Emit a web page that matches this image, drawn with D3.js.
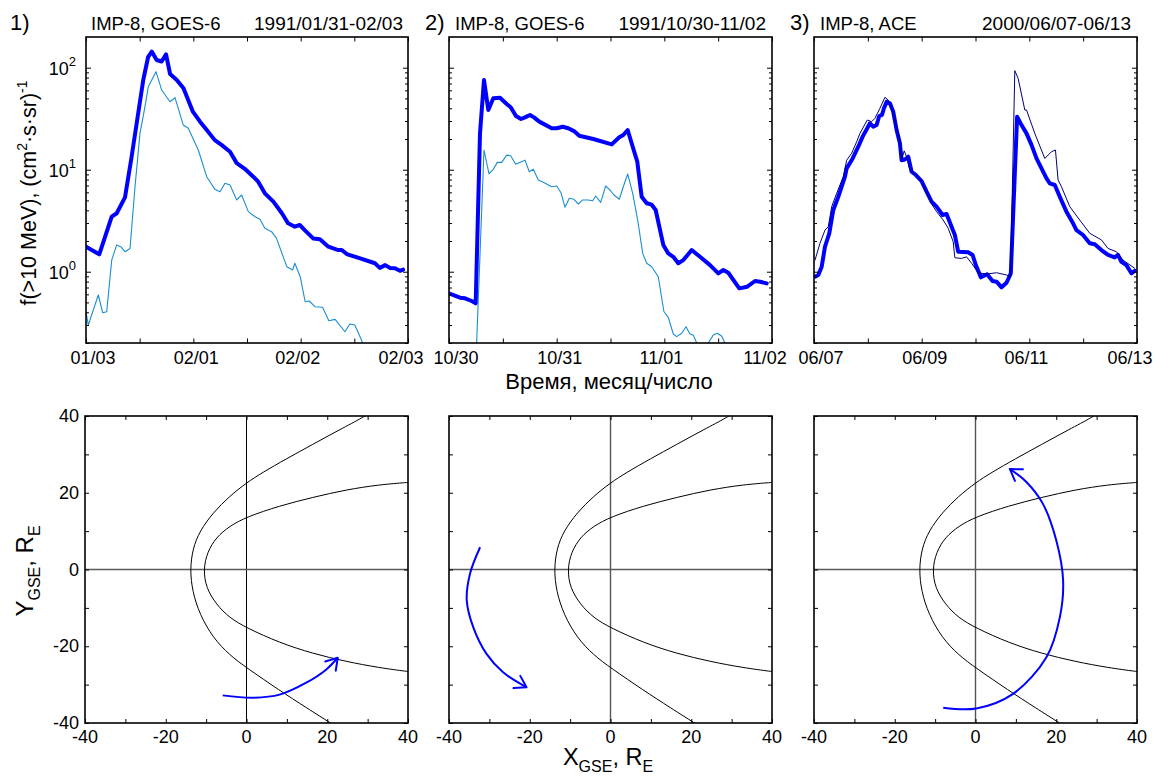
<!DOCTYPE html>
<html>
<head>
<meta charset="utf-8">
<script src="https://cdn.jsdelivr.net/npm/d3@7"></script>
<style>
body{margin:0;background:#fff}
svg{display:block}
text{font-family:"Liberation Sans",Arial,Helvetica,sans-serif;fill:#000}
</style>
</head>
<body>
<svg id="c" width="1153" height="782"></svg>
<script>
// ---------------- DATA ----------------
// Panel 1 (1991/01/31-02/03): hours since 01/31 00:00, flux f(>10 MeV)
const P1_IMP_H = [0,1.27,2.97,5.75,6.87,8.72,10.2,12.8,13.9,14.7,15.8,16.9,17.9,18.8,20.3,21.8,23.9,25.5,27.0,28.8,30.3,32.2,33.7,35.5,37.4,38.5,40.0,41.9,43.8,45.2,46.7,47.8,48.9,50.8,52.3,54.2,56.4,57.2,58.3,61.3,64.6,65.7,66.9,68.0,69.1,70.2,70.9];
const P1_IMP   = [1.76,1.63,1.48,3.46,3.74,5.36,13.4,75.7,128,144,119,115,135,86.8,75.7,62.8,37.1,29.6,24.5,19.5,17.5,15.0,11.6,10.2,8.54,7.63,5.87,4.86,3.74,2.98,2.76,2.87,2.56,2.12,2.08,1.76,1.63,1.63,1.49,1.35,1.21,1.09,1.16,1.09,1.08,1.02,1.05];
const P1_GOES_H = [0,0.51,2.75,3.73,4.63,5.75,6.87,7.76,8.72,9.84,10.96,12.07,13.19,13.93,15.65,16.93,18.78,19.9,21.76,22.87,25.11,26.99,28.84,29.96,31.08,32.2,33.7,34.8,36.3,37.8,38.9,40.0,41.5,42.6,44.9,46.2,46.7,47.9,49.0,49.9,51.2,52.9,54.3,55.7,57.9,59.0,60.1,61.6,62.6];
const P1_GOES   = [0.405,0.300,0.591,0.396,0.405,1.30,1.83,1.76,1.57,1.69,6.81,22.7,41.5,65.2,91.4,60.4,46.4,50.8,27.4,25.5,15.6,8.54,6.42,6.09,7.36,7.08,5.05,5.65,3.88,3.46,3.26,2.67,2.47,2.12,1.12,1.04,1.21,0.893,0.508,0.516,0.454,0.448,0.331,0.341,0.258,0.307,0.300,0.214,0.15];

// Panel 2 (1991/10/30-11/02): hours since 10/30 00:00
const P2_IMP_H = [0,2.45,3.57,5.06,5.95,6.91,7.80,8.76,9.87,11.37,12.86,13.75,14.93,16.05,16.94,18.05,18.95,20.13,22.89,24.01,25.34,26.59,27.86,29.04,32.16,36.27,37.96,38.85,39.83,40.95,41.97,42.95,44.07,45.18,46.07,47.77,48.88,50.0,51.11,52.23,54.10,55.95,58.18,60.03,61.14,62.26,64.71,66.49,68.21,69.32,70.82];
const P2_IMP   = [0.614,0.556,0.548,0.516,0.490,22.7,75.7,38.5,50.1,50.8,44.1,40.9,33.6,31.4,32.6,34.4,32.6,29.6,25.5,25.5,26.4,25.5,23.9,21.5,20.0,17.7,20.8,21.9,24.5,16.8,12.0,5.43,4.69,4.54,4.03,1.83,1.51,1.40,1.21,1.30,1.63,1.40,1.16,0.964,1.04,0.977,0.687,0.713,0.811,0.798,0.769];
const P2_GOES_H = [5.9,7.80,8.92,9.87,10.77,11.75,12.86,13.75,14.87,16.94,17.90,18.79,19.91,21.02,22.89,24.01,24.96,25.86,26.82,27.86,28.82,29.80,31.05,32.03,32.70,33.81,34.93,35.89,36.78,37.96,38.85,39.83,40.95,42.06,43.18,44.07,45.18,46.65,47.92,48.88,50.0,50.75,51.87,52.83,53.72,54.46,55.22,56.4,57.8,58.9,59.8,60.8,61.5,62.2];
const P2_GOES   = [0.1,15.6,9.08,10.1,11.8,11.8,13.9,13.7,11.3,12.4,9.55,10.1,7.93,7.52,6.81,6.92,5.95,4.28,5.25,5.13,4.61,5.05,5.05,4.97,5.52,4.79,6.92,6.32,5.65,5.13,6.81,9.08,5.87,3.21,1.51,1.21,1.12,0.893,0.405,0.357,0.245,0.231,0.249,0.289,0.245,0.239,0.2,0.12,0.2,0.239,0.249,0.233,0.2,0.12];

// Panel 3 (2000/06/07-06/13): hours since 06/07 00:00
const P3_IMP_H = [0.45,1.92,3.43,4.90,6.81,8.60,10.82,13.81,14.56,17.24,19.73,21.69,23.74,24.94,26.41,27.93,29.08,30.29,31.18,32.38,33.85,35.32,36.83,38.30,39.06,40.53,42.0,43.52,45.43,47.97,50.20,52.42,54.65,57.32,59.10,61.33,62.80,64.27,68.72,70.69,72.15,74.38,77.19,79.59,81.37,83.60,85.83,87.74,90.55,92.51,94.74,96.96,99.19,101.42,103.65,105.11,107.34,109.57,112.55,115.49,117.0,119.94,122.93,125.16,128.14,131.08,134.06,135.53,137.05,139.27,141.50,142.97];
const P3_IMP   = [0.893,0.929,1.12,1.76,2.38,4.03,5.43,8.54,10.3,12.9,16.8,21.1,25.5,28.5,26.4,27.4,33.6,34.4,40.0,46.4,44.8,37.1,24.5,18.2,12.4,12.6,13.4,9.55,8.87,7.74,6.09,4.86,4.34,3.60,3.68,2.76,2.29,1.57,1.55,1.46,1.16,0.881,0.944,0.811,0.798,0.703,0.780,0.964,33.1,27.4,22.7,17.5,12.9,10.3,8.24,7.36,7.08,5.43,3.88,2.98,2.56,2.29,1.90,1.86,1.63,1.46,1.38,1.46,1.25,1.16,0.964,1.02];
const P3_ACE_H = [0.45,2.67,4.90,6.37,7.88,10.11,13.05,14.56,16.79,19.02,20.49,23.74,25.70,27.17,29.40,31.62,33.09,35.32,36.83,38.30,39.06,40.22,41.29,42.76,45.74,47.97,50.20,52.42,54.65,57.59,59.82,62.04,62.80,65.78,68.01,70.24,73.18,76.92,81.37,85.83,87.61,89.53,91.0,93.98,94.74,98.43,102.89,105.87,107.65,108.81,110.33,114.03,118.48,122.93,128.14,131.08,134.82,137.76,142.97];
const P3_ACE   = [1.30,1.90,2.56,2.76,4.34,5.87,8.54,12.4,14.5,18.8,22.7,30.7,29.6,31.9,40.0,51.3,48.2,35.7,25.5,19.5,12.6,15.3,13.4,9.93,8.87,7.63,5.87,4.61,3.88,3.21,2.67,1.97,1.37,1.35,1.40,1.21,0.977,0.949,0.977,0.929,0.893,93.5,78.7,38.5,38.5,22.7,12.9,15.0,15.6,7.93,6.81,4.34,3.21,2.38,2.05,1.69,1.57,1.30,1.08];

// Tick labels / titles
const P1_TICKS = ["01/03","02/01","02/02","02/03"];
const P2_TICKS = ["10/30","10/31","11/01","11/02"];
const P3_TICKS = ["06/07","06/09","06/11","06/13"];
const PANEL_NUMS = ["1)","2)","3)"];
const PANEL_SATS = ["IMP-8, GOES-6","IMP-8, GOES-6","IMP-8, ACE"];
const PANEL_DATES = ["1991/01/31-02/03","1991/10/30-11/02","2000/06/07-06/13"];
const FLUX_DECADES = [1,10,100];
const FLUX_EXP = ["0","1","2"];

// Bottom panels: boundaries (X_GSE, Y_GSE in R_E)
const BOW_SHOCK = [[31,41.3],[29.2,39.8],[23.0,36.4],[16.4,32.6],[9.8,28.8],[4.0,25.3],[0,22.6],[-4.2,19.1],[-8.3,14.8],[-11.6,10.0],[-13.3,5.5],[-14.0,0.0],[-13.4,-5.7],[-11.6,-11.7],[-8.3,-17.8],[-4.2,-22.3],[0,-25.6],[8.2,-31.5],[14.8,-36.0],[21.4,-40.4],[23,-41.4]];
const MAGNETOPAUSE = [[42,22.8],[40,22.7],[32.9,22.1],[24.7,20.8],[16.4,18.8],[8.2,16.6],[0,13.7],[-4.2,11.3],[-7.5,8.4],[-9.7,4.6],[-10.7,0.0],[-10.0,-4.8],[-7.5,-9.1],[-4.2,-12.6],[0,-15.2],[8.2,-19.1],[16.4,-21.9],[24.7,-24.0],[32.9,-25.6],[40,-26.6],[42,-26.8]];
const ORBIT1 = [[-5.9,-32.8],[1.6,-33.4],[8.2,-32.6],[14.8,-29.5],[19.7,-26.1],[22.6,-23.0]];
const ORBIT2 = [[-32.3,5.8],[-34.8,-1.1],[-35.6,-8.1],[-34.0,-15.0],[-30.7,-22.0],[-26.6,-26.8],[-20.8,-30.7]];
const ORBIT3 = [[-8.0,-36.0],[0.2,-36.2],[9.3,-32.4],[17.6,-22.8],[20.9,-12.4],[21.7,-2.9],[20.0,7.6],[16.7,17.1],[12.6,22.8],[8.5,26.2]];
const GSE_MAJOR = [-40,-20,0,20,40];
const GSE_ALL = [-40,-30,-20,-10,0,10,20,30,40];

// ---------------- DRAW ----------------
const svg = d3.select("#c");
const defs = svg.append("defs");
const BLUE = "#0000ff";

defs.append("marker").attr("id","ah")
  .attr("viewBox","-13 -9 15 18").attr("markerUnits","userSpaceOnUse")
  .attr("markerWidth",15).attr("markerHeight",18).attr("refX",0).attr("refY",0)
  .attr("orient","auto").attr("overflow","visible")
  .append("path").attr("d","M-11,-7L0,0L-11,7").attr("fill","none")
  .attr("stroke",BLUE).attr("stroke-width",2).attr("stroke-linecap","round").attr("stroke-linejoin","round");

function zip(h,v){return h.map((d,i)=>[d,v[i]]);}

const topPanels = [
  {x0:86,x1:408,span:72,major:[0,24,48,72],minor:[12,36,60],labels:P1_TICKS,
   series:[{d:zip(P1_GOES_H,P1_GOES),c:"#1b8ed2",w:1.1},{d:zip(P1_IMP_H,P1_IMP),c:BLUE,w:4}]},
  {x0:449,x1:772,span:72,major:[0,24,48,72],minor:[12,36,60],labels:P2_TICKS,
   series:[{d:zip(P2_GOES_H,P2_GOES),c:"#1b8ed2",w:1.1},{d:zip(P2_IMP_H,P2_IMP),c:BLUE,w:4}]},
  {x0:814,x1:1137,span:144,major:[0,48,96,144],minor:[24,72,120],labels:P3_TICKS,
   series:[{d:zip(P3_IMP_H,P3_IMP),c:BLUE,w:4},{d:zip(P3_ACE_H,P3_ACE),c:"#00007a",w:1}]}
];
const TOP_Y0 = 37, TOP_Y1 = 343;
const numX = [10,425,790], satX = [91,455,820], dateX = [403,766,1131];

const minorFlux = [];
[0.1,1,10].forEach(b=>{for(let k=2;k<=9;k++){const v=b*k; if(v>=0.2&&v<=200) minorFlux.push(v);}});

topPanels.forEach((p,i)=>{
  const x = d3.scaleLinear().domain([0,p.span]).range([p.x0,p.x1]);
  const y = d3.scaleLog().domain([0.2,200]).range([TOP_Y1,TOP_Y0]);
  const cid = "ct"+i;
  defs.append("clipPath").attr("id",cid).append("rect")
    .attr("x",p.x0).attr("y",TOP_Y0).attr("width",p.x1-p.x0).attr("height",TOP_Y1-TOP_Y0);
  const g = svg.append("g");
  const line = d3.line().x(d=>x(d[0])).y(d=>y(d[1]));
  const lg = g.append("g").attr("clip-path",`url(#${cid})`);
  p.series.forEach(s=>{
    lg.append("path").attr("d",line(s.d)).attr("fill","none").attr("stroke",s.c)
      .attr("stroke-width",s.w).attr("stroke-linejoin","round").attr("stroke-linecap","round");
  });
  const tk = (gen, tr, vals, len) => {
    const a = g.append("g").attr("transform",tr).call(gen.tickValues(vals).tickSize(-len).tickFormat(""));
    a.select(".domain").remove();
    a.selectAll("line").attr("stroke","#000").attr("stroke-width",1);
  };
  tk(d3.axisBottom(x), `translate(0,${TOP_Y1})`, p.major.concat(p.minor), 4.5);
  tk(d3.axisTop(x), `translate(0,${TOP_Y0})`, p.major.concat(p.minor), 4.5);
  tk(d3.axisLeft(y), `translate(${p.x0},0)`, FLUX_DECADES, 5);
  tk(d3.axisRight(y), `translate(${p.x1},0)`, FLUX_DECADES, 5);
  tk(d3.axisLeft(y), `translate(${p.x0},0)`, minorFlux, 3);
  tk(d3.axisRight(y), `translate(${p.x1},0)`, minorFlux, 3);
  g.append("rect").attr("x",p.x0).attr("y",TOP_Y0).attr("width",p.x1-p.x0).attr("height",TOP_Y1-TOP_Y0)
    .attr("fill","none").attr("stroke","#000").attr("stroke-width",1.6);
  const dxs = [7,3,-3,-7];
  p.major.forEach((t,j)=>{
    g.append("text").attr("x",x(t)+dxs[j]).attr("y",364).attr("text-anchor","middle")
      .attr("font-size",18).text(p.labels[j]);
  });
  g.append("text").attr("x",numX[i]).attr("y",29.5).attr("font-size",22).text(PANEL_NUMS[i]);
  g.append("text").attr("x",satX[i]).attr("y",29.5).attr("font-size",18.5).text(PANEL_SATS[i]);
  g.append("text").attr("x",dateX[i]).attr("y",29.5).attr("font-size",19).attr("text-anchor","end").text(PANEL_DATES[i]);
  if(i===0){
    FLUX_DECADES.forEach((v,k)=>{
      const t = g.append("text").attr("x",76).attr("y",y(v)+7).attr("text-anchor","end").attr("font-size",18);
      t.append("tspan").text("10");
      t.append("tspan").attr("dy",-9).attr("font-size",13).text(FLUX_EXP[k]);
    });
  }
});

// y axis title (top)
{
  const t = svg.append("text").attr("transform","translate(36,193) rotate(-90)")
    .attr("text-anchor","middle").attr("font-size",21.5);
  t.append("tspan").text("f(>10 MeV), (cm");
  t.append("tspan").attr("dy",-9).attr("font-size",14).text("2");
  t.append("tspan").attr("dy",9).text("·s·sr)");
  t.append("tspan").attr("dy",-9).attr("font-size",14).text("-1");
}
// x axis title (top)
svg.append("text").attr("x",609).attr("y",389).attr("text-anchor","middle").attr("font-size",22)
  .text("Время, месяц/число");

// bottom panels
const botPanels = [
  {x0:85,x1:408,orbit:ORBIT1,vcol:"#000",vw:1},
  {x0:449,x1:772,orbit:ORBIT2,vcol:"#555",vw:1.4},
  {x0:814,x1:1137,orbit:ORBIT3,vcol:"#555",vw:1.4}
];
const BOT_Y0 = 416, BOT_Y1 = 723;
botPanels.forEach((p,i)=>{
  const x = d3.scaleLinear().domain([-40,40]).range([p.x0,p.x1]);
  const y = d3.scaleLinear().domain([-40,40]).range([BOT_Y1,BOT_Y0]);
  const cid = "cb"+i;
  defs.append("clipPath").attr("id",cid).append("rect")
    .attr("x",p.x0).attr("y",BOT_Y0).attr("width",p.x1-p.x0).attr("height",BOT_Y1-BOT_Y0);
  const g = svg.append("g");
  const cg = g.append("g").attr("clip-path",`url(#${cid})`);
  cg.append("line").attr("x1",x(0)).attr("x2",x(0)).attr("y1",BOT_Y0).attr("y2",BOT_Y1)
    .attr("stroke",p.vcol).attr("stroke-width",p.vw);
  cg.append("line").attr("x1",p.x0).attr("x2",p.x1).attr("y1",y(0)).attr("y2",y(0))
    .attr("stroke","#5a5a5a").attr("stroke-width",1.6);
  const smooth = d3.line().x(d=>x(d[0])).y(d=>y(d[1])).curve(d3.curveBasis);
  [BOW_SHOCK,MAGNETOPAUSE].forEach(b=>{
    cg.append("path").attr("d",smooth(b)).attr("fill","none").attr("stroke","#000").attr("stroke-width",1);
  });
  const curve = d3.line().x(d=>x(d[0])).y(d=>y(d[1])).curve(d3.curveCatmullRom.alpha(0.5));
  g.append("path").attr("d",curve(p.orbit)).attr("fill","none").attr("stroke",BLUE)
    .attr("stroke-width",2).attr("marker-end","url(#ah)");
  const tk = (gen, tr) => {
    const a = g.append("g").attr("transform",tr).call(gen.tickValues(GSE_ALL).tickSize(-4).tickFormat(""));
    a.select(".domain").remove();
    a.selectAll("line").attr("stroke","#000").attr("stroke-width",1);
  };
  tk(d3.axisBottom(x), `translate(0,${BOT_Y1})`);
  tk(d3.axisTop(x), `translate(0,${BOT_Y0})`);
  tk(d3.axisLeft(y), `translate(${p.x0},0)`);
  tk(d3.axisRight(y), `translate(${p.x1},0)`);
  g.append("rect").attr("x",p.x0).attr("y",BOT_Y0).attr("width",p.x1-p.x0).attr("height",BOT_Y1-BOT_Y0)
    .attr("fill","none").attr("stroke","#000").attr("stroke-width",1.6);
  GSE_MAJOR.forEach(v=>{
    g.append("text").attr("x",x(v)).attr("y",743).attr("text-anchor","middle").attr("font-size",18).text(v);
  });
  if(i===0){
    GSE_MAJOR.forEach(v=>{
      g.append("text").attr("x",79).attr("y",y(v)+6).attr("text-anchor","end").attr("font-size",18).text(v);
    });
  }
});

// bottom axis titles
{
  const t = svg.append("text").attr("x",608).attr("y",764.5).attr("text-anchor","middle").attr("font-size",23.5);
  t.append("tspan").text("X");
  t.append("tspan").attr("dy",7).attr("font-size",16).text("GSE");
  t.append("tspan").attr("dy",-7).text(", R");
  t.append("tspan").attr("dy",7).attr("font-size",16).text("E");
}
{
  const t = svg.append("text").attr("transform","translate(33,571) rotate(-90)").attr("text-anchor","middle").attr("font-size",24);
  t.append("tspan").text("Y");
  t.append("tspan").attr("dy",7).attr("font-size",16).text("GSE");
  t.append("tspan").attr("dy",-7).text(", R");
  t.append("tspan").attr("dy",7).attr("font-size",16).text("E");
}
</script>
</body>
</html>
